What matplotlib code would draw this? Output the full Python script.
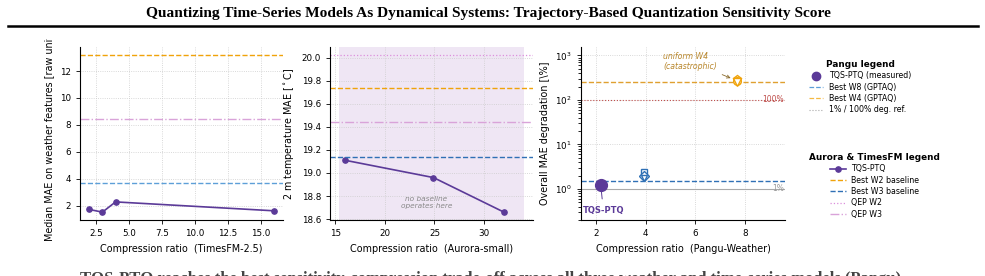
import matplotlib.pyplot as plt
import numpy as np
from matplotlib.transforms import Bbox, TransformedBbox
from matplotlib.lines import Line2D

# TimesFM-2.5 panel
tfm_ratio = [2, 3, 4, 16]
tfm_mae = [1.72, 1.52, 2.28, 1.62]
tfm_best_w2 = 13.2
tfm_best_w3 = 3.67
tfm_qep_w3 = 8.45

# Aurora-small panel
aur_ratio = [16, 24.9, 32]
aur_mae = [19.11, 18.96, 18.66]
aur_best_w2 = 19.735
aur_best_w3 = 19.14
aur_qep_w2 = 20.025
aur_qep_w3 = 19.44
aur_span = (15.4, 34.0)

# Pangu-Weather panel
pg_tqs = (2.19, 1.25)
pg_w8_x = 3.95
pg_w8_y = [2.35, 1.95, 1.72]
pg_w4_x = 7.67
pg_w4_y = [295, 272, 255]
pg_best_w8 = 1.53
pg_best_w4 = 250
pg_ref = [1, 100]

purple = '#5b3a98'
orange = '#f0a30a'
blue = '#2f70b5'
lblue = '#5d9fd8'
pink = '#d9a3d9'
pink2 = '#dc8fdc'

W, H = 985, 276
fig = plt.figure(figsize=(W / 100, H / 100), dpi=100)

def px_axes(l, r, t, b):
    return fig.add_axes([l / W, (H - b) / H, (r - l) / W, (b - t) / H])

def style(ax):
    ax.spines['top'].set_visible(False)
    ax.spines['right'].set_visible(False)
    ax.grid(True, linestyle=':', color='#cccccc', linewidth=0.6)
    ax.set_axisbelow(True)
    ax.tick_params(labelsize=6.3, length=3, width=0.6)

clip = TransformedBbox(Bbox.from_extents(0, 28 / H, 1, 1 - 39 / H), fig.transFigure)

# panel 1
ax1 = px_axes(80, 283, 47, 220)
style(ax1)
ax1.plot(tfm_ratio, tfm_mae, '-o', color=purple, lw=1.2, ms=3.8)
ax1.axhline(tfm_best_w2, color=orange, ls='--', lw=1.0)
ax1.axhline(tfm_best_w3, color=lblue, ls='--', lw=1.0)
ax1.axhline(tfm_qep_w3, color=pink, ls='-.', lw=1.0)
ax1.set_xticks([2.5, 5, 7.5, 10, 12.5, 15])
ax1.set_xlabel('Compression ratio  (TimesFM-2.5)', fontsize=6.9)
yl = ax1.set_ylabel('Median MAE on weather features [raw units]', fontsize=6.9)
yl.set_clip_box(clip)
yl.set_clip_on(True)

# panel 2
ax2 = px_axes(330, 533, 47, 220)
style(ax2)
ax2.axvspan(aur_span[0], aur_span[1], color='#efe6f4', lw=0, zorder=0)
ax2.plot(aur_ratio, aur_mae, '-o', color=purple, lw=1.2, ms=3.8)
ax2.axhline(aur_qep_w2, color=pink2, ls=':', lw=0.9)
ax2.axhline(aur_best_w2, color=orange, ls='--', lw=1.0)
ax2.axhline(aur_qep_w3, color=pink, ls='-.', lw=1.0)
ax2.axhline(aur_best_w3, color=blue, ls='--', lw=1.0)
ax2.text(24.2, 18.74, 'no baseline\noperates here', fontsize=5.3, style='italic',
         color='#888888', ha='center', va='center')
ax2.set_xlabel('Compression ratio  (Aurora-small)', fontsize=6.9)
ax2.set_ylabel(r'2 m temperature MAE [$^\circ$C]', fontsize=6.9)

# panel 3
ax3 = px_axes(581, 785, 47, 220)
style(ax3)
ax3.set_yscale('log')
ax3.axhline(pg_best_w4, color='#e0a030', ls='--', lw=1.0)
ax3.axhline(pg_ref[1], color='#c0504d', ls=':', lw=0.8)
ax3.axhline(pg_best_w8, color=blue, ls='--', lw=1.0)
ax3.axhline(pg_ref[0], color='#aaaaaa', ls='-', lw=0.8)
ax3.plot([pg_tqs[0]], [pg_tqs[1]], 'o', color=purple, ms=8.5)
ax3.annotate('TQS-PTQ', xy=pg_tqs, xytext=(2.3, 0.33), color=purple,
             fontsize=6, fontweight='bold', ha='center', va='center',
             arrowprops=dict(arrowstyle='-', color=purple, lw=0.7, shrinkA=3, shrinkB=4))
for m, y in zip(['s', 'D', 'v'], pg_w8_y):
    ax3.plot([pg_w8_x], [y], m, mfc='white', mec=blue, mew=1.0, ms=5)
for m, y in zip(['p', 'o', 'v'], pg_w4_y):
    ax3.plot([pg_w4_x], [y], m, mfc='white', mec=orange, mew=1.0, ms=5.5)
ax3.annotate('uniform W4\n(catastrophic)', xy=(pg_w4_x - 0.1, 285), xytext=(4.7, 740),
             fontsize=5.6, style='italic', color='#b8862b', ha='left', va='center',
             arrowprops=dict(arrowstyle='->', color='#8a6a2a', lw=0.6, shrinkA=2, shrinkB=3))
ax3.text(9.55, 100, '100%', color='#c0504d', fontsize=5.5, ha='right', va='center')
ax3.text(9.55, 1, '1%', color='#999999', fontsize=5.5, ha='right', va='center')
ax3.set_xlim(1.4, 9.6)
ax3.set_ylim(0.2, 1550)
ax3.set_xticks([2, 4, 6, 8])
ax3.set_xlabel('Compression ratio  (Pangu-Weather)', fontsize=6.9)
ax3.set_ylabel('Overall MAE degradation [\\%]', fontsize=6.9)

# legends
h_pangu = [
    Line2D([], [], marker='o', ls='none', color=purple, ms=6),
    Line2D([], [], color=lblue, ls='--', lw=0.9),
    Line2D([], [], color='#f5b942', ls='--', lw=0.9),
    Line2D([], [], color='#aaaaaa', ls=':', lw=0.8),
]
lab_pangu = ['TQS-PTQ (measured)', 'Best W8 (GPTAQ)', 'Best W4 (GPTAQ)', '1% / 100% deg. ref.']
leg1 = fig.legend(h_pangu, lab_pangu, loc='upper left', bbox_to_anchor=(809 / W, 1 - 60 / H),
                  frameon=False, fontsize=5.7, title='Pangu legend', handlelength=1.8,
                  handletextpad=0.7, labelspacing=0.3, borderaxespad=0, borderpad=0)
leg1.get_title().set_fontweight('bold')
leg1.get_title().set_fontsize(6.4)

h_aur = [
    Line2D([], [], color=purple, marker='o', lw=1.2, ms=3.8),
    Line2D([], [], color=orange, ls='--', lw=1.0),
    Line2D([], [], color=blue, ls='--', lw=1.0),
    Line2D([], [], color=pink2, ls=':', lw=0.9),
    Line2D([], [], color=pink, ls='-.', lw=1.0),
]
lab_aur = ['TQS-PTQ', 'Best W2 baseline', 'Best W3 baseline', 'QEP W2', 'QEP W3']
leg2 = fig.legend(h_aur, lab_aur, loc='upper left', bbox_to_anchor=(809 / W, 1 - 153 / H),
                  frameon=False, fontsize=5.7, title='Aurora & TimesFM legend', handlelength=2.0,
                  handletextpad=0.7, labelspacing=0.3, borderaxespad=0, borderpad=0)
leg2.get_title().set_fontweight('bold')
leg2.get_title().set_fontsize(6.4)

# page title and rule
fig.text(0.496, 1 - 14 / H, 'Quantizing Time-Series Models As Dynamical Systems: '
         'Trajectory-Based Quantization Sensitivity Score',
         ha='center', va='center', fontsize=11.1, fontweight='bold', family='Liberation Serif')
fig.add_artist(Line2D([8 / W, 978 / W], [1 - 26 / H, 1 - 26 / H], color='black', lw=1.8))
fig.text(80 / W, 1 - 271 / H, 'TQS-PTQ reaches the best sensitivity-compression trade-off '
         'across all three weather and time-series models (Pangu)',
         ha='left', va='top', fontsize=12, fontweight='bold', family='Liberation Serif',
         color='#444444')

fig.savefig('out.png', dpi=100)
